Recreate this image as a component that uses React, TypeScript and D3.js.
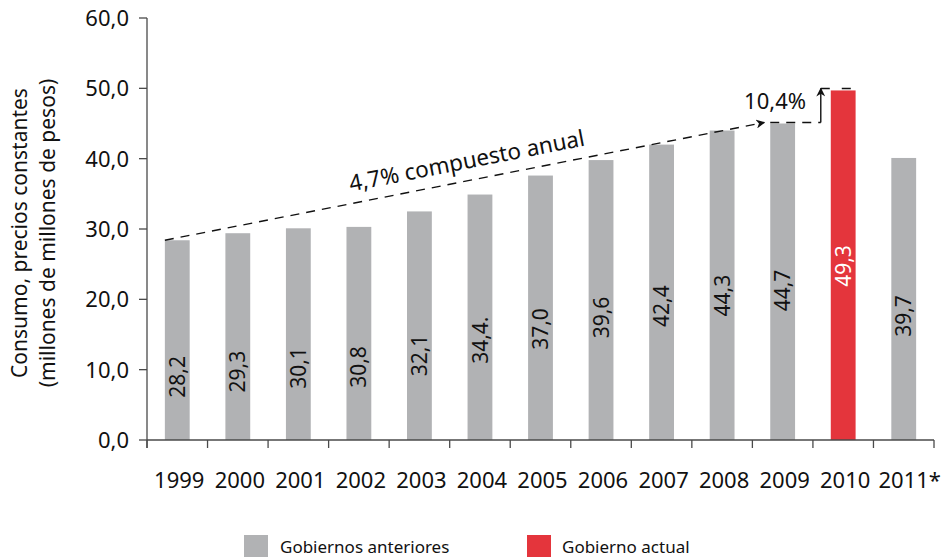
import React from 'react'
import * as d3 from 'd3'

const years = ['1999', '2000', '2001', '2002', '2003', '2004', '2005', '2006', '2007', '2008', '2009', '2010', '2011*']
const values = [28.4, 29.4, 30.1, 30.3, 32.5, 34.9, 37.6, 39.8, 42.0, 44.0, 45.0, 49.7, 40.1]
const labels = ['28,2', '29,3', '30,1', '30,8', '32,1', '34,4.', '37,0', '39,6', '42,4', '44,3', '44,7', '49,3', '39,7']
const current = ['2010']
const yTicks = [0, 10, 20, 30, 40, 50, 60]
const legendItems = ['Gobiernos anteriores', 'Gobierno actual']

const GRAY = '#b1b2b4'
const RED = '#e4353c'
const AXIS = '#4a4a4a'
const FONT = '"Noto Sans", sans-serif'

const W = 945
const H = 557
const left = 147
const right = 934
const top = 18
const bottom = 440

const App = () => {
    const x = d3.scaleBand<string>().domain(years).range([left, right]).padding(0)
    const y = d3.scaleLinear().domain([0, 60]).range([bottom, top])
    const barW = x.bandwidth() * 0.41
    const barX = (d: string) => (x(d) as number) + (x.bandwidth() - barW) / 2
    const fmt = (v: number) => d3.format('.1f')(v).replace('.', ',')

    // trend from 1999 to 2009
    const i0 = 0
    const i1 = years.indexOf('2009')
    const ix = years.indexOf('2010')
    const tx0 = barX(years[i0])
    const ty0 = y(values[i0])
    const tx1 = barX(years[i1]) - 6
    const ty1 = y(values[i1]) - 1
    const ang = Math.atan2(ty1 - ty0, tx1 - tx0) * 180 / Math.PI
    const mx = tx0 + (tx1 - tx0) * 0.51
    const my = ty0 + (ty1 - ty0) * 0.51

    const stepX = barX(years[ix]) - 10
    const lowY = y(values[i1]) - 1
    const highY = y(values[ix]) - 2

    const boundaries = years.map(d => x(d) as number).concat([right])

    return (
        <svg width={W} height={H} style={{ position: 'absolute', left: 0, top: 0 }} fontFamily={FONT}>
            <defs>
                <marker id="arr" viewBox="0 0 10 10" refX="9" refY="5" markerWidth="9" markerHeight="9" markerUnits="userSpaceOnUse" orient="auto">
                    <path d="M0,0 L10,5 L0,10 L3,5 Z" fill="#111" />
                </marker>
            </defs>

            {/* bars */}
            {years.map((d, i) => (
                <rect key={d} x={barX(d)} y={y(values[i])} width={barW} height={bottom - y(values[i])}
                    fill={current.includes(d) ? RED : GRAY} />
            ))}

            {/* value labels */}
            {years.map((d, i) => {
                const cx = (x(d) as number) + x.bandwidth() / 2
                const cy = y(values[i] * 0.74 - 15)
                return (
                    <text key={d} transform={`translate(${cx},${cy}) rotate(-90)`} dy="0.36em" fontSize={21}
                        fill={current.includes(d) ? '#fff' : '#111'}>{labels[i]}</text>
                )
            })}

            {/* axes */}
            <line x1={left} x2={left} y1={top} y2={bottom + 8} stroke={AXIS} strokeWidth={1.3} />
            <line x1={left} x2={right} y1={bottom} y2={bottom} stroke={AXIS} strokeWidth={1.3} />
            {yTicks.map(t => (
                <g key={t}>
                    <line x1={left - 8} x2={left} y1={y(t)} y2={y(t)} stroke={AXIS} strokeWidth={1.3} />
                    <text x={left - 18} y={y(t)} dy="0.36em" textAnchor="end" fontSize={22} fill="#111">{fmt(t)}</text>
                </g>
            ))}
            {boundaries.map((b, i) => (
                <line key={i} x1={b} x2={b} y1={bottom} y2={bottom + 8} stroke={AXIS} strokeWidth={1.3} />
            ))}
            {years.map(d => (
                <text key={d} x={(x(d) as number) + x.bandwidth() / 2 + (d.endsWith('*') ? 6 : 2)} y={488}
                    textAnchor="middle" fontSize={22} fill="#111">{d}</text>
            ))}

            {/* y title */}
            <text transform={`translate(27,233) rotate(-90)`} textAnchor="middle" fontSize={21} fill="#111">Consumo, precios constantes</text>
            <text transform={`translate(55,233) rotate(-90)`} textAnchor="middle" fontSize={21} fill="#111">(millones de millones de pesos)</text>

            {/* trend */}
            <line x1={tx0} y1={ty0} x2={tx1} y2={ty1} stroke="#111" strokeWidth={1.4} strokeDasharray="9,7" markerEnd="url(#arr)" />
            <text transform={`translate(${mx},${my}) rotate(${ang})`} dy={-12} textAnchor="middle" fontSize={22.5} fill="#111">4,7% compuesto anual</text>

            {/* step to 2010 */}
            <line x1={barX(years[i1])} x2={stepX} y1={lowY} y2={lowY} stroke="#111" strokeWidth={1.4} strokeDasharray="9,7" />
            <line x1={stepX} x2={stepX} y1={lowY} y2={highY} stroke="#111" strokeWidth={1.4} markerEnd="url(#arr)" />
            <line x1={stepX} x2={barX(years[ix]) + barW - 2} y1={highY} y2={highY} stroke="#111" strokeWidth={1.4} strokeDasharray="9,12" />
            <text x={806} y={109} textAnchor="end" fontSize={22} fill="#111">10,4%</text>

            {/* legend */}
            <rect x={244} y={535} width={24} height={24} fill={GRAY} />
            <text x={280} y={553} fontSize={17} fill="#111">{legendItems[0]}</text>
            <rect x={527} y={535} width={24} height={24} fill={RED} />
            <text x={562} y={553} fontSize={17} fill="#111">{legendItems[1]}</text>
        </svg>
    )
}

export default App
